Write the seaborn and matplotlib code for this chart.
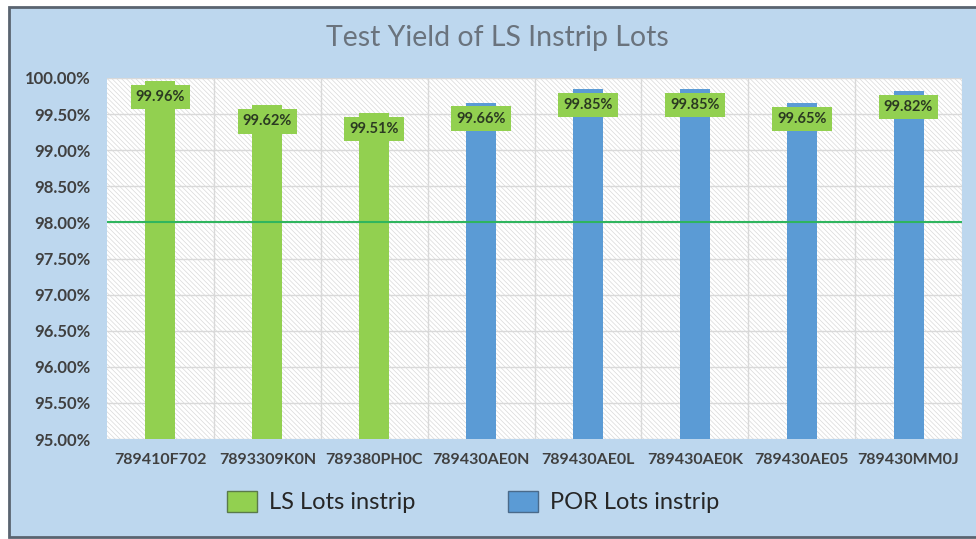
import matplotlib
matplotlib.use("Agg")
import matplotlib.pyplot as plt
import matplotlib.patches as mpatches
import matplotlib.ticker as mticker
import numpy as np
import pandas as pd
import seaborn as sns

lots = ["789410F702", "7893309K0N", "789380PH0C", "789430AE0N",
        "789430AE0L", "789430AE0K", "789430AE05", "789430MM0J"]
yields = [99.96, 99.62, 99.51, 99.66, 99.85, 99.85, 99.65, 99.82]
groups = ["LS Lots instrip"] * 3 + ["POR Lots instrip"] * 5
target = 98.0

green = "#92d050"
blue = "#5b9bd5"
bg = "#bdd7ee"

sns.set_theme(style="white")
plt.rcParams["font.family"] = ["Lato", "DejaVu Sans"]
plt.rcParams["hatch.linewidth"] = 0.5
plt.rcParams["hatch.color"] = "#d9d9d9"

df = pd.DataFrame({"lot": lots, "yield": yields, "group": groups})

fig = plt.figure(figsize=(9.76, 5.39), dpi=100)
fig.patch.set_facecolor("white")
# light blue chart area with dark frame
fig.add_artist(mpatches.Rectangle((9 / 976, 2 / 539), 1.0, 530 / 539,
                                  transform=fig.transFigure, facecolor=bg,
                                  edgecolor="#5a6470", linewidth=2, zorder=0))

ax = fig.add_axes([107 / 976, 1 - 439 / 539, (962 - 107) / 976, (439 - 78) / 539])
ax.set_facecolor("white")
ax.add_patch(mpatches.Rectangle((0, 0), 1, 1, transform=ax.transAxes,
                                facecolor="white", edgecolor="#d9d9d9",
                                hatch="\\" * 7, linewidth=0, zorder=0))

sns.barplot(data=df, x="lot", y="yield", hue="group", dodge=False,
            palette={"LS Lots instrip": green, "POR Lots instrip": blue},
            saturation=1, width=0.28, ax=ax, legend=False, zorder=3, linewidth=0)

ax.set_ylim(95, 100)
ax.set_xlim(-0.5, len(lots) - 0.5)
ax.yaxis.set_major_locator(mticker.MultipleLocator(0.5))
ax.yaxis.set_major_formatter(mticker.FuncFormatter(lambda v, p: f"{v:.2f}%"))
ax.set_xticks(np.arange(len(lots)) + 0.5, minor=True)
ax.grid(axis="y", which="major", color="#d9d9d9", linewidth=1, zorder=1)
ax.grid(axis="x", which="minor", color="#d9d9d9", linewidth=1, zorder=1)
ax.grid(axis="x", which="major", visible=False)
ax.set_axisbelow(True)
ax.axhline(target, color="#2fb55e", linewidth=1.5, zorder=4)

for i, v in enumerate(yields):
    ax.annotate(f"{v:.2f}%", xy=(i, v), xytext=(0, -11.5), textcoords="offset points",
                ha="center", va="center", fontsize=10.5, fontweight="bold", color="#2b3a22",
                bbox=dict(boxstyle="square,pad=0.35", facecolor=green, edgecolor="none"),
                zorder=5)

ax.set_xlabel("")
ax.set_ylabel("")
ax.tick_params(axis="both", which="both", length=0, labelsize=11.5, labelcolor="#404040")
ax.tick_params(axis="x", pad=10)
ax.tick_params(axis="y", labelsize=12, pad=12)
for lab in ax.get_xticklabels() + ax.get_yticklabels():
    lab.set_fontweight("bold")
for s in ax.spines.values():
    s.set_visible(False)

fig.text(497 / 976, 1 - 38 / 539, "Test Yield of LS Instrip Lots", ha="center", va="center",
         fontsize=20.5, color="#6a737d")

handles = [mpatches.Patch(facecolor=green, edgecolor="#5a7a4a", label="LS Lots instrip"),
           mpatches.Patch(facecolor=blue, edgecolor="#4a6a8a", label="POR Lots instrip")]
fig.legend(handles=handles, loc="center", bbox_to_anchor=(473 / 976, 1 - 502 / 539), ncol=2,
           frameon=False, fontsize=17, handlelength=1.3, handleheight=1.0,
           columnspacing=3.9, handletextpad=0.5, labelcolor="#262626")

fig.savefig("out.png", dpi=100)
